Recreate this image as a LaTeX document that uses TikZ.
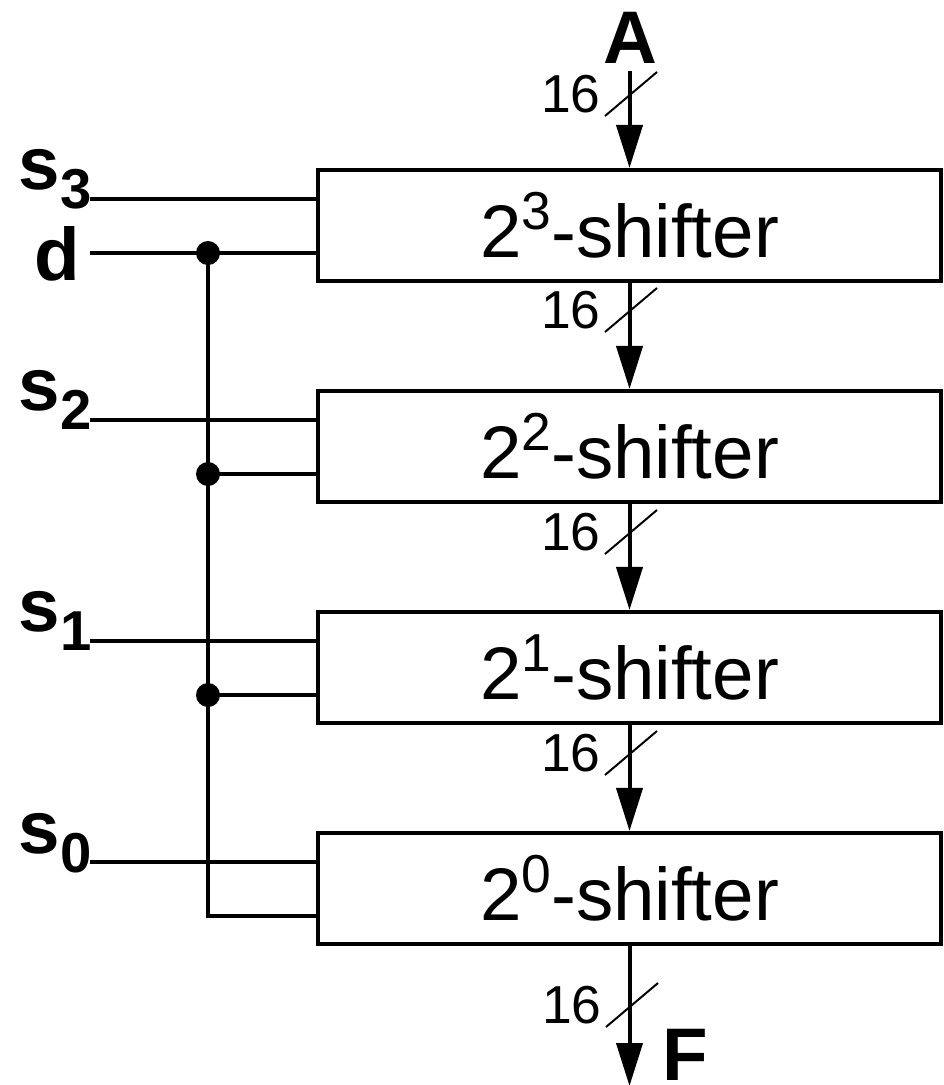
\documentclass[tikz,border=0pt]{standalone}
\usepackage{fontspec}
\setmainfont{Liberation Sans}
\usetikzlibrary{arrows.meta}
\newcommand{\shiftsup}[1]{\raisebox{20pt}{\fontsize{38}{38}\selectfont #1}}
\newcommand{\selsub}[1]{\raisebox{-14pt}{\fontsize{40}{40}\selectfont #1}}
\begin{document}
\begin{tikzpicture}
            [x=0.025cm,y=-0.025cm,
             Shifter/.style={draw,line width=2.85pt,minimum width=15.575cm,minimum height=2.775cm,inner sep=0pt,font=\fontsize{53}{53}\selectfont},
             Wire/.style={line width=2.85pt},
             Bus/.style={line width=2.85pt,-{Triangle[length=1.075cm,width=0.65cm]}},
             Slash/.style={line width=1.4pt},
             Dot/.style={circle,fill=black,inner sep=0pt,minimum size=0.6cm},
             Width/.style={anchor=east,inner sep=0pt,font=\fontsize{38}{38}\selectfont},
             Port/.style={inner sep=0pt,font=\bfseries\fontsize{53}{53}\selectfont}];
            \useasboundingbox (0,0) rectangle (944,1085);
            \node[Shifter] (sh3) at (629.5,225.5) {2\shiftsup{3}-shifter};
            \node[Shifter] (sh2) at (629.5,446.5) {2\shiftsup{2}-shifter};
            \node[Shifter] (sh1) at (629.5,667.5) {2\shiftsup{1}-shifter};
            \node[Shifter] (sh0) at (629.5,888.5) {2\shiftsup{0}-shifter};
            \node[Port,anchor=base] (A) at (630,63) {A};
            \node[Port,anchor=base west] (F) at (662,1080) {F};
            \node[Port,anchor=base east] (s3) at (92,189) {s\selsub{3}};
            \node[Port,anchor=base east] (d) at (80,280) {d};
            \node[Port,anchor=base east] (s2) at (92,410) {s\selsub{2}};
            \node[Port,anchor=base east] (s1) at (92,631) {s\selsub{1}};
            \node[Port,anchor=base east] (s0) at (92,853) {s\selsub{0}};
            \coordinate (s3in) at (90,199);
            \coordinate (s2in) at (90,420);
            \coordinate (s1in) at (90,641);
            \coordinate (s0in) at (90,862);
            \coordinate (din) at (90,253);
            \node[Dot] (j3) at (208,253) {};
            \node[Dot] (j2) at (208,474) {};
            \node[Dot] (j1) at (208,695) {};
            \coordinate (j0) at (208,916);
            \draw [Wire] (s3in) -- (s3in -| sh3.west);
            \draw [Wire] (s2in) -- (s2in -| sh2.west);
            \draw [Wire] (s1in) -- (s1in -| sh1.west);
            \draw [Wire] (s0in) -- (s0in -| sh0.west);
            \draw [Wire] (din) -- (j3.center) -- (j3 -| sh3.west);
            \draw [Wire] (j2.center) -- (j2 -| sh2.west);
            \draw [Wire] (j1.center) -- (j1 -| sh1.west);
            \draw [Wire] (j3.center) -- (j0) -- (j0 -| sh0.west);
            \coordinate (ain) at (629.5,71);
            \coordinate (fout) at (629.5,1086);
            \draw [Bus] (ain) -- (sh3.north);
            \draw [Bus] (sh3.south) -- (sh2.north);
            \draw [Bus] (sh2.south) -- (sh1.north);
            \draw [Bus] (sh1.south) -- (sh0.north);
            \draw [Bus] (sh0.south) -- (fout);
            \coordinate (w4) at (631,94);
            \coordinate (w3) at (631,310);
            \coordinate (w2) at (631,532);
            \coordinate (w1) at (631,753);
            \coordinate (w0) at (632,1005);
            \draw [Slash] (w4) +(-26,22) -- +(26,-22);
            \draw [Slash] (w3) +(-26,22) -- +(26,-22);
            \draw [Slash] (w2) +(-26,22) -- +(26,-22);
            \draw [Slash] (w1) +(-26,22) -- +(26,-22);
            \draw [Slash] (w0) +(-26,22) -- +(26,-22);
            \node[Width] (n4) at ([xshift=-0.75cm]w4) {16};
            \node[Width] (n3) at ([xshift=-0.75cm]w3) {16};
            \node[Width] (n2) at ([xshift=-0.75cm]w2) {16};
            \node[Width] (n1) at ([xshift=-0.75cm]w1) {16};
            \node[Width] (n0) at ([xshift=-0.75cm]w0) {16};
        \end{tikzpicture}
\end{document}
